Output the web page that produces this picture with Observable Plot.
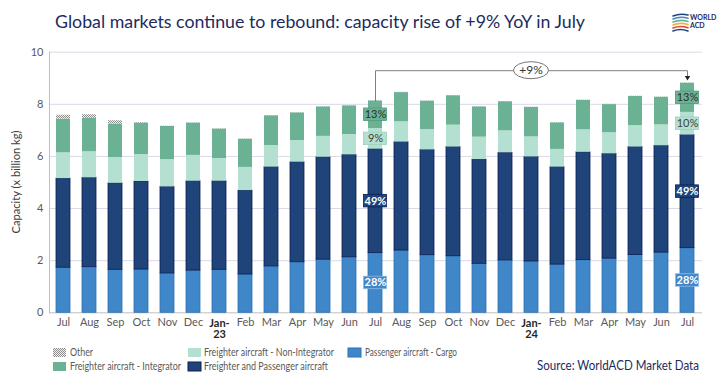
<!DOCTYPE html>
<html><head><meta charset="utf-8">
<script src="https://cdn.jsdelivr.net/npm/d3@7"></script>
<script src="https://cdn.jsdelivr.net/npm/@observablehq/plot@0.6"></script>
<style>
body{margin:0;background:#fff;}
#chart{width:720px;height:382px;}
</style></head><body><div id="chart"></div>
<script>
// ---- data ----
const months = ["2022-07","2022-08","2022-09","2022-10","2022-11","2022-12","2023-01","2023-02","2023-03","2023-04","2023-05","2023-06","2023-07","2023-08","2023-09","2023-10","2023-11","2023-12","2024-01","2024-02","2024-03","2024-04","2024-05","2024-06","2024-07"];
const tickLabels = ["Jul","Aug","Sep","Oct","Nov","Dec","Jan-\n23","Feb","Mar","Apr","May","Jun","Jul","Aug","Sep","Oct","Nov","Dec","Jan-\n24","Feb","Mar","Apr","May","Jun","Jul"];
const boldTicks = ["2023-01","2024-01"];
const seriesNames = ["Passenger aircraft - Cargo","Freighter and Passenger aircraft","Freighter aircraft - Non-Integrator","Freighter aircraft - Integrator","Other"];
const passengerCargo = [1.73,1.75,1.65,1.66,1.51,1.62,1.65,1.47,1.78,1.94,2.04,2.13,2.29,2.39,2.21,2.17,1.88,2.01,1.97,1.85,2.02,2.08,2.22,2.31,2.48];
const freighterPassenger = [3.42,3.43,3.32,3.38,3.32,3.43,3.40,3.22,3.81,3.84,3.93,3.93,3.99,4.16,4.04,4.19,4.00,4.13,4.01,3.74,4.14,4.02,4.14,4.10,4.34];
const nonIntegrator = [0.99,1.00,0.99,1.03,1.05,0.99,0.87,0.89,0.83,0.83,0.80,0.78,0.79,0.78,0.78,0.84,0.86,0.84,0.77,0.68,0.86,0.81,0.82,0.80,0.87];
const integrator = [1.29,1.28,1.28,1.21,1.27,1.24,1.13,1.08,1.14,1.06,1.13,1.10,1.06,1.12,1.09,1.13,1.16,1.12,1.13,1.02,1.13,1.08,1.12,1.06,1.12];
const other = [0.15,0.14,0.13,0.02,0.01,0.01,0.01,0.01,0.01,0.01,0.01,0.01,0.01,0.01,0.01,0.01,0.01,0.01,0.01,0.01,0.01,0.01,0.01,0.01,0.01];
const yTicks = [0,2,4,6,8,10];
const labelMonths = ["2023-07","2024-07"];
const labelTexts = [["28%","49%","9%","13%"],["28%","49%","10%","13%"]];
const annotationText = "+9%";
const annotationFrom = "2023-07", annotationTo = "2024-07", annotationMid = "2024-01";
const bracketLevel = 9.29, arrowTip = 9.03;
const titleText = "Global markets continue to rebound: capacity rise of +9% YoY in July";
const sourceText = "Source: WorldACD Market Data";
const yLabel = "Capacity (x billion kg)";

// ---- styles ----
const fills = ["#3f87c9","#1f4479","#b3e0d1","#6ab293","url(#hatch)"];
const strokes = ["#2e70b4","#0d1f55","none","none","none"];

const seriesValues = [passengerCargo, freighterPassenger, nonIntegrator, integrator, other];
const rows = [];
months.forEach((m, i) => {
  let acc = 0;
  seriesValues.forEach((vals, s) => {
    rows.push({month: m, series: s, y1: acc, y2: acc + vals[i]});
    acc += vals[i];
  });
});
const totals = months.map((m, i) => d3.sum(seriesValues, v => v[i]));
const labelRows = [];
labelMonths.forEach((m, k) => {
  const i = months.indexOf(m);
  let acc = 0;
  for (let s = 0; s < 4; s++) {
    const v = seriesValues[s][i];
    labelRows.push({month: m, series: s, mid: acc + v / 2, text: labelTexts[k][s]});
    acc += v;
  }
});
const iFrom = months.indexOf(annotationFrom), iTo = months.indexOf(annotationTo);
const bracket = [
  {month: annotationFrom, v: totals[iFrom]},
  {month: annotationFrom, v: bracketLevel},
  {month: annotationTo, v: bracketLevel},
  {month: annotationTo, v: arrowTip + 0.05}
];
const tickFmt = d => tickLabels[months.indexOf(d)];
const boxStrokes = ["#8fbbe4","#0d1f55","#9fd0bf","#4f9a7a"];
const textFills = ["white","white","#404040","#303030"];

const marks = [
  Plot.ruleY([2,4,6,8,10], {stroke: "#d9d9e8", strokeWidth: 1}),
  Plot.ruleY([0], {stroke: "#bfbfbf"}),
  Plot.frame({anchor: "left", stroke: "#bfbfbf"})
];
for (let s = 0; s < 5; s++) {
  marks.push(Plot.barY(rows.filter(r => r.series === s), {
    x: "month", y1: "y1", y2: "y2", fill: fills[s],
    stroke: strokes[s], strokeWidth: 0.8
  }));
}
for (let s = 0; s < 4; s++) {
  const lr = labelRows.filter(r => r.series === s);
  marks.push(Plot.barY(lr, {x: "month", y1: d => d.mid - 0.24, y2: d => d.mid + 0.24,
    fill: fills[s], stroke: boxStrokes[s], strokeWidth: 0.8, insetLeft: -4.5, insetRight: -4.5}));
  marks.push(Plot.text(lr, {x: "month", y: "mid", text: "text", fill: textFills[s],
    fontSize: 11, fontFamily: "Lato", fontWeight: s < 2 ? "bold" : "normal"}));
}
marks.push(Plot.line(bracket, {x: "month", y: "v", stroke: "#808080", strokeWidth: 1}));
marks.push(Plot.dot([{month: annotationTo, v: arrowTip}], {x: "month", y: "v", symbol: "triangle2", r: 2.6, rotate: 180, fill: "#222", stroke: "none"}));
marks.push(Plot.axisX({ticks: months.filter(m => !boldTicks.includes(m)), tickSize: 0, tickPadding: 5.5, tickFormat: tickFmt, label: null, fill: "#595959", fontSize: 11}));
marks.push(Plot.axisX({ticks: boldTicks, tickSize: 0, tickPadding: 5.5, tickFormat: tickFmt, label: null, fill: "#262626", fontWeight: "bold", fontSize: 11, lineHeight: 1.05}));
marks.push(Plot.axisY({ticks: yTicks, tickSize: 0, tickPadding: 6, label: null, fill: "#595959", fontSize: 11}));

const plot = Plot.plot({
  width: 720, height: 382,
  marginLeft: 49, marginRight: 18, marginTop: 51.7, marginBottom: 69.7,
  x: {domain: months, paddingInner: 0.46, paddingOuter: 0.23, label: null},
  y: {domain: [0, 10], label: null},
  style: {fontFamily: "Lato", fontSize: "11px", background: "white", overflow: "visible"},
  marks
});
document.getElementById("chart").appendChild(plot);

const svg = d3.select(plot);
const defs = svg.insert("defs", ":first-child");
const pat = defs.append("pattern").attr("id", "hatch").attr("patternUnits", "userSpaceOnUse").attr("width", 2).attr("height", 2);
pat.append("rect").attr("width", 2).attr("height", 2).attr("fill", "#f2f2f2");
pat.append("rect").attr("width", 1).attr("height", 1).attr("fill", "#8c8c8c");
pat.append("rect").attr("x", 1).attr("y", 1).attr("width", 1).attr("height", 1).attr("fill", "#8c8c8c");

const overlay = svg.append("g").attr("text-anchor", "start");

// annotation ellipse
const xs = plot.scale("x"), ys = plot.scale("y");
const ex = xs.apply(annotationMid) + xs.bandwidth / 2, ey = ys.apply(bracketLevel);
overlay.append("ellipse").attr("cx", ex).attr("cy", ey).attr("rx", 17.5).attr("ry", 8.5).attr("fill", "white").attr("stroke", "#666").attr("stroke-width", 0.9);
overlay.append("text").attr("x", ex).attr("y", ey).attr("dy", "0.35em").attr("text-anchor", "middle")
  .attr("font-family", "Lato").attr("font-size", 12).attr("fill", "#333").text(annotationText);

// title
overlay.append("text").attr("x", 55).attr("y", 28).attr("text-anchor", "start").attr("font-family", "Lato").attr("font-size", 18)
  .attr("fill", "#1e2b5e").attr("textLength", 530).attr("lengthAdjust", "spacingAndGlyphs").text(titleText);

// y label
overlay.append("text").attr("transform", "translate(20,182) rotate(-90)").attr("text-anchor", "middle")
  .attr("font-family", "Lato").attr("font-size", 11).attr("fill", "#404040")
  .attr("textLength", 103).attr("lengthAdjust", "spacingAndGlyphs").text(yLabel);

// legend
const legendItems = [
  {s: 4, x: 53, y: 348, tx: 70, len: 23},
  {s: 2, x: 188, y: 348, tx: 204, len: 130},
  {s: 0, x: 348, y: 348, tx: 365, len: 92},
  {s: 3, x: 53, y: 362, tx: 70, len: 111},
  {s: 1, x: 188, y: 362, tx: 204, len: 124}
];
legendItems.forEach(it => {
  overlay.append("rect").attr("x", it.x).attr("y", it.y).attr("width", 13).attr("height", 9)
    .attr("fill", fills[it.s]).attr("stroke", it.s === 1 ? "#0d1f55" : it.s === 0 ? "#2e70b4" : "none");
  overlay.append("text").attr("x", it.tx).attr("y", it.y + 4.5).attr("dy", "0.35em").attr("text-anchor", "start")
    .attr("font-family", "Lato").attr("font-size", 11).attr("fill", "#595959")
    .attr("textLength", it.len).attr("lengthAdjust", "spacingAndGlyphs").text(seriesNames[it.s]);
});

// source
overlay.append("text").attr("x", 537).attr("y", 366).attr("dy", "0.35em").attr("text-anchor", "start").attr("font-family", "Lato")
  .attr("font-size", 12.5).attr("fill", "#1e2b5e").attr("textLength", 162).attr("lengthAdjust", "spacingAndGlyphs").text(sourceText);

// logo
const lg = overlay.append("g").attr("transform", "translate(672,12)");
const arcColors = ["#1f4479", "#3f87c9", "#6ab293", "#e8b43a", "#d9453b", "#1f4479"];
arcColors.forEach((c, k) => {
  lg.append("path").attr("d", `M1,${4 + k * 3} Q8,${1 + k * 3} 16,${3 + k * 3.2}`).attr("fill", "none")
    .attr("stroke", c).attr("stroke-width", 1.6).attr("stroke-linecap", "round");
});
lg.append("text").attr("x", 18).attr("y", 8).attr("text-anchor", "start").attr("font-family", "Lato").attr("font-size", 7).attr("font-weight", "bold").attr("fill", "#1e2b5e").text("WORLD");
lg.append("text").attr("x", 18).attr("y", 16).attr("text-anchor", "start").attr("font-family", "Lato").attr("font-size", 7).attr("font-weight", "bold").attr("fill", "#1e2b5e").text("ACD");
</script></body></html>
